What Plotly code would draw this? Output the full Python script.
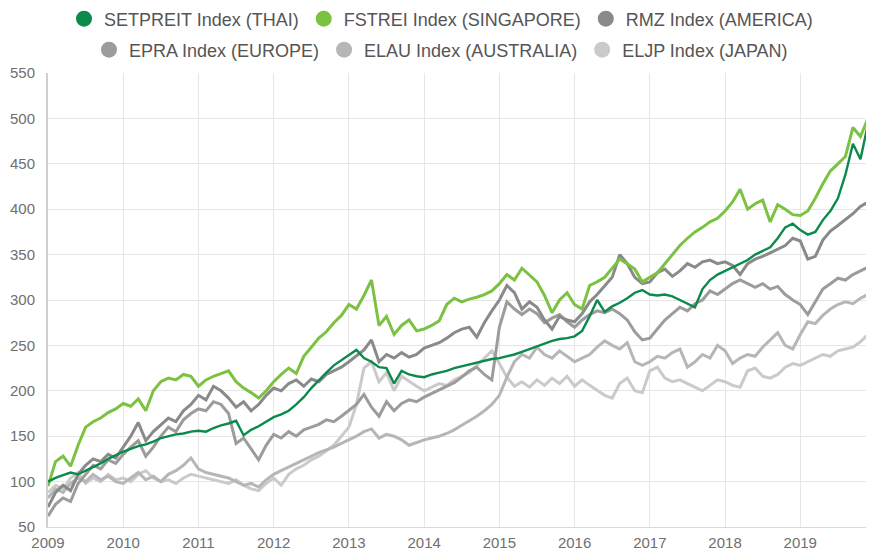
import plotly.graph_objects as go

years = [round(2009 + i / 10, 1) for i in range(111)]

setpreit = [100, 104, 107, 110, 108, 112, 116, 120, 125, 129,
            133, 136, 139, 141, 144, 148, 150, 152, 153, 155,
            156, 155, 159, 162, 164, 167, 151, 157, 161, 166,
            171, 174, 178, 185, 193, 203, 212, 220, 228, 234,
            240, 245, 236, 232, 226, 225, 208, 222, 218, 216,
            215, 218, 220, 222, 225, 227, 229, 231, 233, 235,
            236, 238, 240, 243, 246, 249, 252, 255, 257, 258,
            260, 266, 282, 300, 287, 293, 297, 302, 308, 311,
            306, 305, 306, 304, 300, 296, 292, 312, 322, 328,
            332, 336, 340, 344, 350, 354, 358, 368, 380, 384,
            377, 372, 375, 388, 398, 412, 438, 472, 455, 494,
            490]

fstrei = [95, 122, 128, 117, 140, 160, 166, 170, 176, 180,
          186, 183, 191, 178, 200, 210, 214, 212, 218, 216,
          205, 212, 216, 219, 222, 210, 203, 198, 192, 200,
          210, 218, 225, 219, 238, 248, 258, 265, 275, 283,
          295, 290, 305, 322, 272, 282, 262, 272, 278, 266,
          268, 272, 277, 295, 302, 298, 301, 303, 306, 310,
          318, 328, 322, 335, 328, 320, 305, 286, 300, 308,
          295, 290, 316, 320, 325, 335, 345, 340, 334, 320,
          325, 330, 340, 350, 360, 368, 375, 380, 386, 390,
          398, 408, 422, 400, 406, 410, 386, 405, 400, 394,
          393, 398, 412, 428, 442, 450, 458, 490, 480, 500,
          496]

rmz = [72, 88, 96, 90, 108, 118, 125, 122, 130, 126,
       138, 150, 165, 145, 155, 162, 170, 166, 178, 185,
       195, 190, 205, 200, 192, 182, 188, 178, 185, 195,
       203, 200, 208, 212, 205, 213, 210, 218, 222, 226,
       232, 238, 245, 256, 232, 240, 236, 242, 237, 240,
       247, 250, 253, 258, 264, 268, 270, 259, 275, 288,
       300, 316, 308, 290, 298, 292, 278, 268, 282, 278,
       276, 285, 298, 306, 315, 325, 350, 340, 325, 318,
       320, 330, 334, 326, 332, 340, 336, 342, 344, 340,
       342, 338, 328, 340, 345, 348, 352, 356, 360, 368,
       365, 345, 348, 366, 376, 382, 388, 395, 403, 408,
       414]

epra = [62, 75, 82, 78, 98, 108, 118, 114, 124, 120,
        130, 138, 145, 128, 138, 150, 160, 155, 168, 175,
        180, 178, 188, 185, 175, 142, 148, 136, 124, 140,
        152, 148, 155, 150, 157, 160, 163, 168, 166, 172,
        178, 185, 196, 182, 172, 188, 178, 186, 190, 188,
        193, 197, 201, 205, 209, 215, 222, 226, 218, 212,
        270, 298, 290, 284, 290, 285, 275, 280, 284, 276,
        270, 278, 284, 288, 286, 290, 285, 278, 265, 256,
        258, 268, 278, 285, 292, 288, 296, 300, 310, 306,
        312, 318, 322, 318, 314, 318, 312, 315, 306, 300,
        295, 284, 298, 312, 318, 324, 322, 328, 332, 336,
        340]

elau = [82, 92, 88, 98, 104, 100, 108, 102, 106, 100,
        98, 104, 110, 102, 106, 100, 108, 112, 118, 126,
        114, 110, 108, 106, 104, 100, 96, 98, 94, 102,
        108, 112, 116, 120, 124, 128, 132, 135, 138, 142,
        146, 150, 155, 158, 148, 152, 150, 146, 140, 143,
        146, 148, 150, 153, 157, 162, 167, 172, 178, 185,
        195, 215, 232, 240, 236, 248, 240, 236, 244, 238,
        232, 236, 240, 248, 255, 250, 246, 253, 232, 228,
        232, 238, 236, 242, 246, 226, 232, 240, 236, 250,
        244, 230, 236, 240, 238, 248, 256, 264, 250, 246,
        262, 276, 274, 283, 290, 295, 298, 296, 302, 306,
        312]

eljp = [88, 96, 92, 104, 110, 98, 104, 100, 108, 102,
        104, 100, 108, 112, 104, 100, 102, 98, 104, 108,
        106, 104, 102, 100, 98, 102, 96, 92, 90, 98,
        104, 96, 108, 114, 118, 124, 128, 134, 140, 150,
        160, 185, 225, 232, 210, 220, 200, 216, 210, 205,
        200, 204, 208, 206, 212, 216, 220, 228, 236, 244,
        230, 215, 205, 210, 204, 212, 206, 214, 208, 216,
        205, 212, 206, 200, 195, 192, 208, 214, 200, 198,
        222, 226, 214, 210, 212, 208, 204, 200, 206, 212,
        210, 206, 204, 222, 225, 216, 214, 218, 226, 230,
        228, 232, 236, 240, 238, 244, 246, 248, 254, 262,
        270]

names = ["SETPREIT Index (THAI)", "FSTREI Index (SINGAPORE)", "RMZ Index (AMERICA)",
         "EPRA Index (EUROPE)", "ELAU Index (AUSTRALIA)", "ELJP Index (JAPAN)"]
colors = ["#0b8a4b", "#7cc242", "#8a8a8a", "#9c9c9c", "#b6b6b6", "#cacaca"]
widths = [2.4, 3.0, 3.0, 3.0, 3.0, 3.0]
series = [setpreit, fstrei, rmz, epra, elau, eljp]

tick_years = list(range(2009, 2020))
y_ticks = [50, 100, 150, 200, 250, 300, 350, 400, 450, 500, 550]

# page has an 8px body margin, so the figure is sized to fit inside the window
FIG_W, FIG_H = 866, 548

fig = go.Figure()
# draw lightest first so greens are on top
for idx in [5, 4, 3, 2, 1, 0]:
    fig.add_trace(go.Scatter(x=years, y=series[idx], mode="lines",
                             line=dict(color=colors[idx], width=widths[idx]),
                             showlegend=False, hoverinfo="skip"))
for idx in range(6):
    fig.add_trace(go.Scatter(x=[None], y=[None], mode="markers", name=names[idx],
                             marker=dict(color=colors[idx], size=16, symbol="circle"),
                             legend="legend" if idx < 3 else "legend2"))

legend_common = dict(orientation="h", xref="container", yref="container",
                     xanchor="center", x=0.5, yanchor="middle",
                     font=dict(family="Liberation Sans, Arial, sans-serif", size=18, color="#555555"),
                     bgcolor="rgba(0,0,0,0)", itemclick=False, tracegroupgap=0)

fig.update_layout(
    width=FIG_W, height=FIG_H,
    margin=dict(l=40, r=0, t=65, b=29, autoexpand=False),
    paper_bgcolor="white", plot_bgcolor="white",
    font=dict(family="Liberation Sans, Arial, sans-serif", color="#6f6f6f", size=15),
    legend=dict(y=1 - 11 / FIG_H, **legend_common),
    legend2=dict(y=1 - 42 / FIG_H, **legend_common),
    xaxis=dict(range=[2009, 2019.98], tickvals=tick_years, ticktext=[str(t) for t in tick_years],
               showgrid=True, gridcolor="#e6e6e6", gridwidth=1, zeroline=False,
               showline=True, linecolor="#d9d9d9", linewidth=1, automargin=False,
               ticks="", ticklabelstandoff=2, tickfont=dict(size=15, color="#6f6f6f")),
    yaxis=dict(range=[50, 550], tickvals=y_ticks, showgrid=True, gridcolor="#e6e6e6", gridwidth=1,
               zeroline=False, showline=True, linecolor="#cfcfcf", linewidth=2, automargin=False,
               ticks="", ticklabelstandoff=8, tickfont=dict(size=15, color="#6f6f6f")),
)

fig.write_html("out.html")
